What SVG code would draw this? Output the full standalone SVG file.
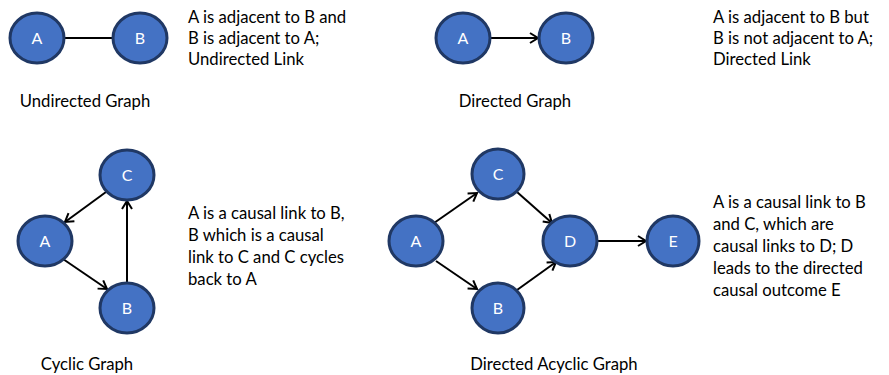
<svg xmlns="http://www.w3.org/2000/svg" width="889" height="375" viewBox="0 0 889 375">
<style>
.n ellipse{fill:#4472C4;stroke:#203864;stroke-width:3}
.n text{fill:#fff;font-family:Lato,"Liberation Sans",sans-serif;font-size:16px;text-anchor:middle}
.t{fill:#000;font-family:Lato,"Liberation Sans",sans-serif;font-size:16.7px}
.c{text-anchor:middle}
#edges line{stroke:#000;stroke-width:2}
#edges .a{marker-end:url(#ah)}
</style>
<defs>
<marker id="ah" markerUnits="userSpaceOnUse" markerWidth="14" markerHeight="14" viewBox="-10 -7 12 14" refX="0" refY="0" orient="auto">
<path d="M-8,-5 L0,0 L-8,5" fill="none" stroke="#000" stroke-width="2"/>
</marker>
</defs>
<rect width="889" height="375" fill="#fff"/>
<g id="edges">
<line x1="63" y1="38" x2="113" y2="38"/>
<line class="a" x1="490" y1="38" x2="538" y2="38"/>
<line class="a" x1="106" y1="192" x2="65" y2="222"/>
<line class="a" x1="63" y1="259" x2="107" y2="289"/>
<line class="a" x1="127" y1="283" x2="127" y2="201"/>
<line class="a" x1="434" y1="223" x2="477" y2="193"/>
<line class="a" x1="517" y1="192" x2="552" y2="223"/>
<line class="a" x1="436" y1="261" x2="477" y2="289"/>
<line class="a" x1="517" y1="290" x2="556" y2="262"/>
<line class="a" x1="597" y1="241" x2="646" y2="241"/>
</g>
<g id="ug-A" class="n"><ellipse cx="37" cy="38" rx="27" ry="25"/><text x="37" y="44">A</text></g>
<g id="ug-B" class="n"><ellipse cx="140" cy="38" rx="27" ry="25"/><text x="140" y="44">B</text></g>
<g id="dg-A" class="n"><ellipse cx="463" cy="38" rx="27" ry="25"/><text x="463" y="44">A</text></g>
<g id="dg-B" class="n"><ellipse cx="566" cy="38" rx="27" ry="25"/><text x="566" y="44">B</text></g>
<g id="cg-C" class="n"><ellipse cx="127" cy="175" rx="27" ry="25"/><text x="127" y="181">C</text></g>
<g id="cg-A" class="n"><ellipse cx="45" cy="241" rx="27" ry="25"/><text x="45" y="247">A</text></g>
<g id="cg-B" class="n"><ellipse cx="127" cy="308" rx="27" ry="25"/><text x="127" y="314">B</text></g>
<g id="dag-A" class="n"><ellipse cx="416" cy="241" rx="27" ry="25"/><text x="416" y="247">A</text></g>
<g id="dag-C" class="n"><ellipse cx="498" cy="174" rx="26" ry="25"/><text x="498" y="180">C</text></g>
<g id="dag-B" class="n"><ellipse cx="498" cy="308" rx="26" ry="25"/><text x="498" y="314">B</text></g>
<g id="dag-D" class="n"><ellipse cx="570" cy="241" rx="27" ry="25"/><text x="570" y="247">D</text></g>
<g id="dag-E" class="n"><ellipse cx="673" cy="241" rx="26" ry="25"/><text x="673" y="247">E</text></g>
<g id="labels">
<text class="t" x="188" y="23">A is adjacent to B and</text>
<text class="t" x="188" y="44">B is adjacent to A;</text>
<text class="t" x="188" y="65">Undirected Link</text>
<text class="t c" x="85" y="107">Undirected Graph</text>
<text class="t" x="713" y="23">A is adjacent to B but</text>
<text class="t" x="713" y="44">B is not adjacent to A;</text>
<text class="t" x="713" y="65">Directed Link</text>
<text class="t c" x="515" y="107">Directed Graph</text>
<text class="t" x="188" y="219">A is a causal link to B,</text>
<text class="t" x="188" y="241">B which is a causal</text>
<text class="t" x="188" y="263">link to C and C cycles</text>
<text class="t" x="188" y="285">back to A</text>
<text class="t c" x="87" y="370">Cyclic Graph</text>
<text class="t" x="713" y="208">A is a causal link to B</text>
<text class="t" x="713" y="230">and C, which are</text>
<text class="t" x="713" y="252">causal links to D; D</text>
<text class="t" x="713" y="274">leads to the directed</text>
<text class="t" x="713" y="296">causal outcome E</text>
<text class="t c" x="554" y="370">Directed Acyclic Graph</text>
</g>
</svg>
